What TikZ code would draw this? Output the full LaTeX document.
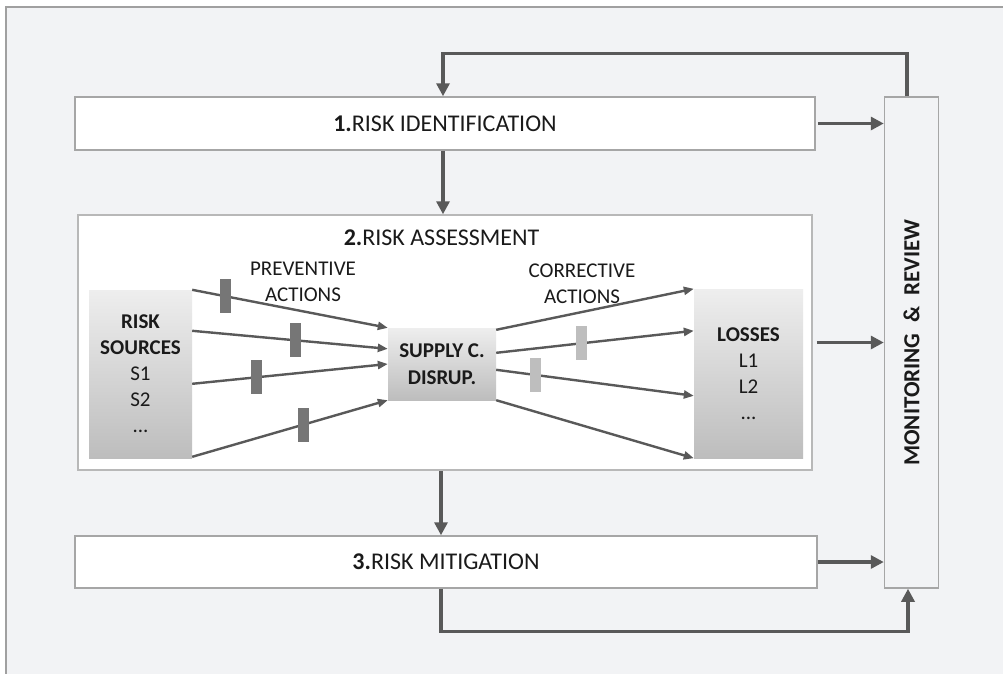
\documentclass[tikz,border=0pt]{standalone}
\usepackage{fontspec}
\setmainfont{Carlito}
\usetikzlibrary{arrows.meta,calc}
\definecolor{bgc}{HTML}{F2F3F5}
\definecolor{framec}{HTML}{A0A0A0}
\definecolor{boxc}{HTML}{A6A6A6}
\definecolor{arrc}{HTML}{595959}
\definecolor{bardark}{HTML}{767676}
\definecolor{barlight}{HTML}{BEBEBE}
\definecolor{txt}{HTML}{1A1A1A}
\definecolor{gradtop}{HTML}{EEEEEE}
\definecolor{gradbot}{HTML}{BDBDBD}
\begin{document}
\begin{tikzpicture}[x=1pt,y=-1pt,
  stage/.style={draw=boxc, line width=1.5pt, fill=white, inner sep=0pt, text=txt, font=\fontsize{24}{28}\selectfont},
  grad/.style={top color=gradtop, bottom color=gradbot, inner sep=0pt, align=center, text=txt, font=\fontsize{21}{26}\selectfont},
  lbl/.style={align=center, text=txt, font=\fontsize{21}{26}\selectfont, inner sep=0pt},
  bigarrow/.style={draw=arrc, line width=3.2pt, -{Triangle[length=13pt,width=13pt]}},
  fanarrow/.style={draw=arrc, line width=2.4pt, -{Triangle[length=10pt,width=8pt]}},
  darkbar/.style={fill=bardark, minimum width=11pt, minimum height=34pt, inner sep=0pt, draw=none},
  lightbar/.style={fill=barlight, minimum width=11pt, minimum height=34pt, inner sep=0pt, draw=none}
]
\useasboundingbox (0,0) rectangle (1003,673);
\fill[white] (0,0) rectangle (1003,673);
\draw[framec, line width=1.5pt, fill=bgc] (6,7) rectangle (1020,690);

% main stages
\node[stage, minimum width=740pt, minimum height=53pt] (id) at (445,123.5) {\textbf{1.}RISK IDENTIFICATION};
\node[stage, draw=boxc!80, minimum width=734pt, minimum height=255pt] (ra) at (445,342.5) {};
\node[stage, minimum width=742pt, minimum height=52pt] (mit) at (446,562) {\textbf{3.}RISK MITIGATION};
\node[stage, fill=bgc, minimum width=54pt, minimum height=491pt] (mon) at (911.5,342.5) {};
\node[rotate=90, text=txt, font=\fontsize{23}{26}\selectfont\bfseries] (montxt) at (mon.center) {MONITORING\hspace{11pt}\&\hspace{11pt}REVIEW};

\node[text=txt, font=\fontsize{24}{28}\selectfont, inner sep=0pt] (ratitle) at (441.5,238) {\textbf{2.}RISK ASSESSMENT};

% inner boxes
\node[grad, minimum width=103pt, minimum height=168pt] (src) at (140.5,374) {\textbf{RISK}\\\textbf{SOURCES}\\S1\\S2\\...};
\node[grad, minimum width=108pt, minimum height=72pt, font=\fontsize{21}{27}\selectfont] (scd) at (442,364) {\textbf{SUPPLY C.}\\\textbf{DISRUP.}};
\node[grad, minimum width=109pt, minimum height=169pt] (los) at (748.5,373.5) {\textbf{LOSSES}\\L1\\L2\\...};

% fan arrows left
\draw[fanarrow] (src.north east) -- (scd.north west) node[darkbar, pos=0.17] (b1) {};
\draw[fanarrow] ([yshift=-41pt]src.north east) -- ([yshift=-21pt]scd.north west) node[darkbar, pos=0.53] (b2) {};
\draw[fanarrow] ([yshift=-94pt]src.north east) -- (scd.west) node[darkbar, pos=0.33] (b3) {};
\draw[fanarrow] ([yshift=-167pt]src.north east) -- (scd.south west) node[darkbar, pos=0.57] (b4) {};

% fan arrows right
\draw[fanarrow] ([yshift=-2pt]scd.north east) -- (los.north west);
\draw[fanarrow] ([yshift=-25pt]scd.north east) -- ([yshift=-42pt]los.north west) node[lightbar, pos=0.434] (b5) {};
\draw[fanarrow] ([yshift=-42pt]scd.north east) -- ([yshift=-107pt]los.north west) node[lightbar, pos=0.2] (b6) {};
\draw[fanarrow] (scd.south east) -- (los.south west);

% labels
\node[lbl] (prev) at (303,282) {PREVENTIVE\\ACTIONS};
\node[lbl] (corr) at (582,284) {CORRECTIVE\\ACTIONS};

% main connectors
\draw[bigarrow] ([xshift=-4.5pt]mon.north) -- ++(0,-43) -| ([xshift=-2pt]id.north);
\draw[bigarrow] ([xshift=-2pt]id.south) -- ([xshift=-2pt]id.south |- ra.north);
\draw[bigarrow] ([xshift=-4pt]ra.south) -- ([xshift=-4pt]ra.south |- mit.north);
\draw[bigarrow] ([xshift=2pt]id.east) -- (id.east -| mon.west);
\draw[bigarrow] ([xshift=4pt]ra.east) -- (ra.east -| mon.west);
\draw[bigarrow] (mit.east) -- (mit.east -| mon.west);
\draw[bigarrow] ([xshift=-5pt]mit.south) -- ++(0,43) -| ([xshift=-3.5pt]mon.south);
\end{tikzpicture}
\end{document}
